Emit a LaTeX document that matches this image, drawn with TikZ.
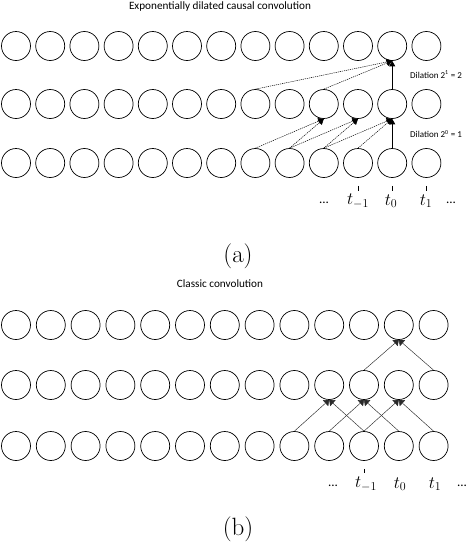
\documentclass[tikz,border=0pt]{standalone}
\usepackage{fontspec}
\newfontfamily\calib{Carlito}
\usetikzlibrary{arrows.meta}
\definecolor{linegray}{HTML}{2A2A2A}
\tikzset{
  cell/.style={circle,draw,line width=0.7pt,minimum size=29pt,inner sep=0pt},
  dar/.style={-{Triangle[length=5.5pt,width=6.5pt]},dash pattern=on 1.2pt off 0.9pt,line width=0.5pt},
  sar/.style={-{Triangle[length=5.5pt,width=6pt]},line width=0.8pt},
  gar/.style={-{Triangle[length=5pt,width=8pt]},line width=0.45pt,linegray},
  tickln/.style={thin},
  ttl/.style={font=\calib\fontsize{11.2}{13}\selectfont,inner sep=0pt},
  dil/.style={font=\calib\fontsize{9}{11}\selectfont,anchor=west,inner sep=0pt},
  tlab/.style={font=\fontsize{17.5}{20}\selectfont,inner sep=0pt},
  dots/.style={font=\calib\fontsize{13}{15}\selectfont,inner sep=0pt},
  sublab/.style={font=\fontsize{25}{28}\selectfont,inner sep=0pt}
}
\begin{document}
\begin{tikzpicture}[x=1pt,y=-1pt]
\useasboundingbox (0,0) rectangle (472,550);
% (a) dilated causal convolution
\node[ttl] (titlea) at (220,7) {Exponentially dilated causal convolution};
\foreach \i in {0,...,12}{
  \node[cell] (ta\i) at (16+34.2*\i,46) {};
  \node[cell] (ma\i) at (16+34.2*\i,104) {};
  \node[cell] (ba\i) at (16+34.2*\i,163) {};
}
\foreach \s/\t in {7/9,8/9,8/10,9/10,9/11,10/11}
  \draw[dar] (ba\s.north) -- (ma\t.south);
\draw[sar] (ba11.north) -- (ma11.south);
\foreach \s in {7,9}
  \draw[dar] (ma\s.north) -- (ta11.south);
\draw[sar] (ma11.north) -- (ta11.south);
\node[dil] (dila) at (410,75) {Dilation 2\textsuperscript{1} = 2};
\node[dil] (dilb) at (410,134) {Dilation 2\textsuperscript{0} = 1};
\foreach \i in {10,11,12}
  \draw[tickln] ([yshift=-8pt]ba\i.south) -- ++(0,5);
\node[dots] (la0) at (324,203) {...};
\node[tlab] (la1) at (358,201) {$t_{-1}$};
\node[tlab] (la2) at (391,201) {$t_{0}$};
\node[tlab] (la3) at (426,201) {$t_{1}$};
\node[dots] (la4) at (451,203) {...};
\node[sublab] (capa) at (238,256) {(a)};
% (b) classic convolution
\node[ttl] (titleb) at (220,284) {Classic convolution};
\foreach \i in {0,...,12}{
  \node[cell] (tb\i) at (16+34.8*\i,325) {};
  \node[cell] (mb\i) at (16+34.8*\i,385) {};
  \node[cell] (bb\i) at (16+34.8*\i,446) {};
}
\foreach \s/\t in {8/9,10/9,9/10,11/10,10/11,12/11}
  \draw[gar] (bb\s.north) -- (mb\t.south);
\foreach \s in {10,12}
  \draw[gar] (mb\s.north) -- (tb11.south);
\draw[tickln] ([yshift=-8pt]bb10.south) -- ++(0,4);
\node[dots] (lb0) at (333,486) {...};
\node[tlab] (lb1) at (366,484) {$t_{-1}$};
\node[tlab] (lb2) at (400,484) {$t_{0}$};
\node[tlab] (lb3) at (435,484) {$t_{1}$};
\node[dots] (lb4) at (462,486) {...};
\node[sublab] (capb) at (238,529) {(b)};
\end{tikzpicture}
\end{document}
